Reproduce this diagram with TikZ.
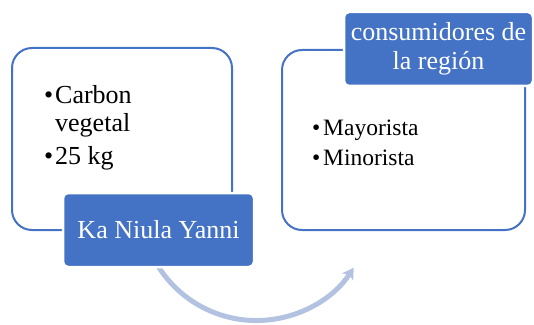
\documentclass[tikz,border=0pt]{standalone}
\usepackage{fontspec}
\setmainfont{Liberation Serif}
\usepackage{tikz}
\usetikzlibrary{positioning, arrows.meta}
\definecolor{boxBlue}{HTML}{4472C4}
\definecolor{arcBlue}{HTML}{B4C2E2}
\tikzset{
    x=1pt, y=1pt, % one unit is one point
    styleBox/.style={draw=boxBlue, line width=2pt, rounded corners=20pt, fill=white}, % the big white boxes
    styleHead/.style={draw=white, line width=2.5pt, fill=boxBlue, rounded corners=5pt, text=white, align=center}, % the blue title boxes
    styleArrow/.style={draw=arcBlue, line width=5pt, -{Stealth[length=11pt, width=13pt, inset=3pt]}}, % the curved arrow
}
\newcommand{\bul}{\makebox[11pt][l]{\textbullet}}
\begin{document}
\begin{tikzpicture}[
                                styleText/.style={anchor=north west, align=left, inner sep=0pt},
                            ]
                            \useasboundingbox (0,0) rectangle (534,324);
                            \coordinate (arcS) at (158,58);
                            \draw[styleArrow] (arcS) arc[start angle=212, end angle=327, radius=116] coordinate (arcE);
                            \node[styleBox, minimum width=220pt, minimum height=182pt] (boxA) at (122,185) {};
                            \node[styleBox, minimum width=243pt, minimum height=180pt] (boxB) at (403.5,184) {};
                            \node[styleHead, minimum width=191pt, minimum height=74pt, font=\fontsize{26}{29}\selectfont] (headA) at (158.5,94) {Ka Niula Yanni};
                            \node[styleHead, minimum width=189pt, minimum height=74pt, font=\fontsize{26}{29}\selectfont] (headB) at (438.5,275) {consumidores de\\la región};
                            \node[styleText, font=\fontsize{26}{28}\selectfont] (textA) at (44,239) {\bul Carbon\\\hspace*{11pt}vegetal\\[5pt]\bul 25 kg};
                            \node[styleText, font=\fontsize{23.5}{30}\selectfont] (textB) at (312,204) {\bul Mayorista\\\bul Minorista};
                        \end{tikzpicture}
\end{document}
